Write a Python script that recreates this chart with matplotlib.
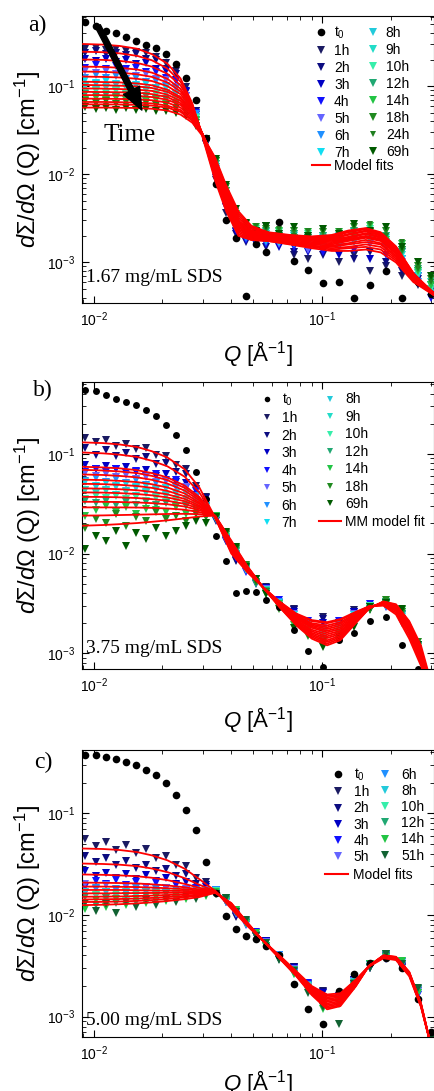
import matplotlib
matplotlib.use("Agg")
import matplotlib.pyplot as plt
from matplotlib.lines import Line2D
from matplotlib.ticker import LogLocator, NullFormatter

plt.rcParams['font.family'] = ['Liberation Sans', 'DejaVu Sans']
plt.rcParams['mathtext.fontset'] = 'custom'
plt.rcParams['mathtext.rm'] = 'Liberation Sans'
plt.rcParams['mathtext.it'] = 'Liberation Sans:italic'
plt.rcParams['mathtext.sf'] = 'Liberation Sans:italic'

# ---------------- data (intensities in 1e-3 cm^-1) ----------------
q = [0.0092, 0.0102, 0.0113, 0.0125, 0.0138, 0.0153, 0.0169, 0.0187, 0.0207, 0.0229,
     0.0253, 0.028, 0.031, 0.0343, 0.038, 0.042, 0.0465, 0.0515, 0.057, 0.065,
     0.075, 0.087, 0.101, 0.118, 0.138, 0.162, 0.19, 0.223, 0.262, 0.3]
qf_a = [0.009, 0.011, 0.013, 0.0155, 0.018, 0.021, 0.024, 0.027, 0.030, 0.034, 0.038, 0.043,
        0.049, 0.058, 0.072, 0.09, 0.11, 0.13, 0.155, 0.18, 0.21, 0.25, 0.31]
qf_bc = [0.009, 0.011, 0.013, 0.0155, 0.018, 0.021, 0.025, 0.029, 0.034, 0.04, 0.047, 0.055,
         0.065, 0.077, 0.09, 0.105, 0.12, 0.14, 0.16, 0.185, 0.21, 0.24, 0.27, 0.3]

# panel a: 1.67 mg/mL
a_t0 = [530, 480, 425, 395, 360, 325, 295, 270, 230, 180, 125, 70, 26, 7.8, 3.0, 1.9, 0.42, 1.6, 1.3, 2.9,
        1.05, 0.83, 0.58, 0.6, 0.40, 0.55, 0.8, 0.39, 0.6, 0.44]
a_1h = [265, 272, 258, 262, 250, 246, 236, 215, 182, 148, 98, 52, 22, 8.5, 3.6, 2.3, 1.9, 2.1, 2.6, 1.7,
        1.2, 1.1, 1.5, 1.0, 1.2, 0.8, 0.9, 0.7, 0.55, 0.5]
a_2h = [238, 250, 232, 240, 225, 228, 202, 196, 158, 138, 86, 52, 22, 9.5, 4.2, 2.1, 1.7, 2.3, 1.5, 1.9,
        1.3, 1.7, 1.2, 1.6, 1.1, 1.3, 1.0, 0.8, 0.65, 0.48]
a_3h = [205, 192, 203, 188, 196, 178, 181, 155, 147, 118, 88, 47, 24, 9.0, 4.5, 2.2, 2.1, 1.6, 2.0, 1.5,
        1.9, 1.3, 1.6, 1.2, 1.8, 1.1, 1.5, 0.9, 0.7, 0.5]
a_4h = [160, 172, 158, 168, 155, 160, 144, 143, 122, 113, 77, 50, 23, 10.5, 4.3, 2.7, 1.8, 2.1, 1.6, 1.9,
        1.5, 1.8, 1.3, 1.7, 1.4, 1.9, 1.2, 1.1, 0.7, 0.4]
a_5h = [150, 140, 149, 138, 145, 131, 136, 120, 117, 97, 78, 45, 25, 10.0, 5.0, 2.4, 2.2, 1.7, 2.1, 1.6,
        1.9, 1.4, 1.8, 1.5, 2.0, 1.6, 1.7, 1.0, 0.75, 0.5]
a_6h = [124, 132, 122, 130, 120, 125, 112, 115, 99, 96, 69, 48, 23, 11.5, 4.8, 2.9, 1.9, 2.2, 1.7, 2.0,
        1.6, 1.9, 1.5, 1.9, 1.7, 2.1, 1.5, 1.3, 0.6, 0.5]
a_7h = [116, 108, 114, 106, 112, 102, 106, 95, 95, 82, 70, 43, 25, 11.0, 5.4, 2.6, 2.3, 1.8, 2.1, 1.7,
        2.0, 1.6, 1.9, 1.6, 2.1, 1.8, 1.9, 1.1, 0.8, 0.55]
a_8h = [100, 106, 99, 104, 97, 101, 91, 94, 84, 82, 63, 45, 23, 12.2, 5.3, 3.0, 2.1, 2.3, 1.8, 2.1,
        1.7, 2.0, 1.6, 2.0, 1.8, 2.2, 1.6, 1.4, 0.7, 0.45]
a_9h = [97, 91, 96, 90, 94, 87, 90, 82, 83, 72, 64, 41, 25, 12.0, 6.0, 2.9, 2.4, 1.9, 2.2, 1.8,
        2.1, 1.7, 2.0, 1.7, 2.2, 1.9, 2.0, 1.2, 0.8, 0.6]
a_10h = [83, 89, 84, 88, 82, 86, 78, 81, 72, 72, 57, 43, 23, 13.2, 5.8, 3.2, 2.2, 2.4, 1.9, 2.2,
         1.8, 2.1, 1.7, 2.1, 1.9, 2.4, 1.7, 1.5, 0.75, 0.5]
a_12h = [81, 77, 80, 76, 79, 74, 77, 71, 71, 63, 57, 40, 25, 13.0, 6.5, 3.1, 2.5, 2.0, 2.3, 1.9,
         2.1, 1.8, 2.0, 1.8, 2.3, 2.1, 2.0, 1.3, 0.85, 0.55]
a_14h = [70, 74, 69, 73, 69, 72, 67, 70, 63, 64, 52, 41, 23, 14.2, 6.4, 3.5, 2.3, 2.5, 2.0, 2.3,
         1.9, 2.2, 1.8, 2.2, 2.0, 2.6, 1.8, 1.6, 0.8, 0.55]
a_18h = [68, 64, 67, 63, 66, 62, 65, 61, 61, 56, 51, 38, 25, 14.0, 7.1, 3.4, 2.7, 2.1, 2.4, 2.0,
         2.3, 1.9, 2.2, 1.9, 2.5, 2.2, 2.3, 1.4, 0.9, 0.65]
a_24h = [60, 63, 59, 62, 60, 62, 58, 60, 56, 56, 47, 39, 23, 15.2, 7.0, 3.8, 2.5, 2.6, 2.1, 2.4,
         2.0, 2.3, 1.9, 2.3, 2.2, 2.7, 2.0, 1.7, 0.85, 0.6]
a_69h = [58, 55, 57, 54, 56, 53, 55, 52, 52, 49, 46, 35, 25, 15.0, 7.6, 4.0, 2.8, 2.3, 2.6, 2.1,
         2.5, 2.0, 2.4, 2.1, 2.7, 2.3, 2.5, 1.5, 1.0, 0.7]

fa_1h = [300, 295, 285, 265, 230, 180, 122, 64, 26, 8.5, 3.8, 2.0, 1.8, 1.75, 1.6, 1.45, 1.35, 1.35, 1.4, 1.3, 1.0, 0.6, 0.42]
fa_2h = [245, 242, 235, 220, 196, 158, 112, 62, 27, 9.0, 4.0, 2.1, 1.8, 1.75, 1.62, 1.5, 1.4, 1.45, 1.5, 1.4, 1.05, 0.62, 0.42]
fa_3h = [200, 198, 193, 183, 166, 138, 102, 60, 27, 9.5, 4.2, 2.2, 1.85, 1.78, 1.65, 1.52, 1.45, 1.5, 1.6, 1.5, 1.1, 0.64, 0.42]
fa_4h = [166, 165, 161, 154, 142, 121, 93, 58, 28, 10, 4.5, 2.3, 1.9, 1.8, 1.68, 1.55, 1.5, 1.6, 1.7, 1.6, 1.15, 0.66, 0.43]
fa_5h = [146, 145, 142, 136, 127, 110, 87, 56, 28, 10.5, 4.7, 2.4, 1.95, 1.85, 1.72, 1.6, 1.55, 1.65, 1.8, 1.65, 1.2, 0.67, 0.43]
fa_6h = [128, 127, 125, 121, 114, 100, 81, 54, 28, 11, 5.0, 2.5, 2.0, 1.88, 1.75, 1.65, 1.6, 1.75, 1.9, 1.75, 1.25, 0.68, 0.43]
fa_7h = [112, 111, 110, 107, 102, 91, 75, 52, 28, 11.5, 5.2, 2.6, 2.05, 1.9, 1.8, 1.7, 1.65, 1.8, 1.95, 1.8, 1.3, 0.7, 0.43]
fa_8h = [103, 102, 101, 99, 95, 86, 72, 51, 28.5, 12, 5.5, 2.7, 2.1, 1.95, 1.85, 1.75, 1.7, 1.85, 2.0, 1.85, 1.32, 0.7, 0.44]
fa_9h = [94, 93.5, 92.5, 91, 88, 80, 68, 49, 28.5, 12.5, 5.8, 2.8, 2.15, 2.0, 1.88, 1.8, 1.75, 1.9, 2.1, 1.9, 1.35, 0.72, 0.44]
fa_10h = [86, 85.5, 85, 84, 81, 75, 64, 48, 28.5, 13, 6.0, 2.9, 2.2, 2.05, 1.9, 1.82, 1.8, 1.95, 2.15, 1.95, 1.38, 0.72, 0.44]
fa_12h = [79, 78.8, 78.3, 77.5, 75, 70, 61, 46, 28.5, 13.5, 6.3, 3.0, 2.25, 2.1, 1.95, 1.85, 1.85, 2.05, 2.25, 2.0, 1.42, 0.73, 0.44]
fa_14h = [72, 71.8, 71.4, 70.7, 69, 65, 57, 44, 28, 14, 6.6, 3.2, 2.3, 2.12, 1.97, 1.9, 1.9, 2.1, 2.3, 2.05, 1.45, 0.74, 0.44]
fa_18h = [66, 66, 65.6, 65, 63.5, 60, 53.5, 42, 28, 14.5, 6.9, 3.4, 2.4, 2.15, 2.0, 1.92, 1.95, 2.2, 2.38, 2.1, 1.48, 0.75, 0.44]
fa_24h = [62, 62, 61.7, 61.2, 60, 57, 51, 40.5, 27.5, 15, 7.2, 3.6, 2.5, 2.18, 2.02, 1.95, 2.0, 2.25, 2.42, 2.15, 1.5, 0.75, 0.43]
fa_69h = [57, 57, 56.8, 56.4, 55.3, 52.8, 47.5, 38.5, 27, 15.5, 7.5, 3.8, 2.6, 2.2, 2.05, 1.97, 2.05, 2.3, 2.45, 2.2, 1.52, 0.76, 0.43]

# panel b: 3.75 mg/mL
b_t0 = [440, 430, 385, 355, 330, 305, 275, 240, 195, 155, 108, 65, 35, 15, 8.5, 4.0, 4.2, 4.1, 3.4, 2.9,
        1.7, 1.05, 0.72, 1.35, 1.6, 2.1, 2.3, 1.2, 0.7, 0.5]
b_1h = [145, 132, 138, 121, 126, 112, 114, 98, 95, 78, 71, 48, 37, 22, 13.5, 8.4, 6.9, 5.0, 4.6, 3.1,
        2.8, 2.0, 2.3, 2.0, 2.7, 2.8, 3.1, 2.0, 1.2, 0.6]
b_2h = [115, 98, 108, 96, 101, 88, 93, 79, 80, 65, 62, 44, 36, 21, 13.8, 8.6, 7.0, 5.1, 4.5, 3.2,
        2.7, 2.0, 2.2, 2.0, 2.6, 2.8, 3.2, 2.1, 1.2, 0.6]
b_3h = [77, 71, 76, 70, 73, 66, 69, 60, 62, 52, 51, 39, 33, 22, 14, 8.9, 7.1, 5.1, 4.5, 3.2,
        2.6, 1.9, 2.0, 1.9, 2.6, 2.8, 3.2, 2.2, 1.2, 0.55]
b_4h = [66, 71, 65, 70, 64, 67, 60, 62, 54, 54, 45, 42, 30, 23.5, 13.2, 9.6, 6.6, 5.5, 4.1, 3.4,
        2.3, 2.1, 1.7, 2.1, 2.3, 3.1, 2.9, 2.4, 1.1, 0.5]
b_5h = [64, 60, 63, 59, 61, 56, 58, 52, 53, 46, 46, 37, 32, 22, 14.3, 9.2, 7.2, 5.1, 4.4, 3.1,
        2.5, 1.9, 1.8, 1.8, 2.5, 2.8, 3.2, 2.2, 1.2, 0.55]
b_6h = [53, 57, 52, 56, 51, 54, 49, 51, 45, 46, 40, 38, 29, 23.5, 13.7, 10.0, 6.8, 5.5, 4.0, 3.3,
        2.2, 2.0, 1.6, 1.9, 2.2, 3.0, 3.0, 2.5, 1.1, 0.5]
b_7h = [52, 48, 51, 47, 50, 46, 48, 44, 45, 40, 40, 34, 30, 22.2, 14.8, 9.6, 7.3, 5.1, 4.3, 3.0,
        2.4, 1.8, 1.7, 1.7, 2.4, 2.8, 3.3, 2.3, 1.2, 0.55]
b_8h = [43, 46, 43, 46, 42, 45, 41, 43, 39, 40, 35, 34, 28, 23.6, 14.2, 10.4, 6.9, 5.5, 4.0, 3.2,
        2.2, 1.9, 1.5, 1.8, 2.1, 3.0, 3.0, 2.5, 1.1, 0.5]
b_9h = [43, 40, 42, 39, 41, 38, 40, 37, 38, 35, 35, 31, 29, 22.5, 15.3, 10.0, 7.4, 5.1, 4.3, 2.9,
        2.3, 1.7, 1.55, 1.6, 2.3, 2.8, 3.3, 2.4, 1.2, 0.55]
b_10h = [35, 38, 36, 38, 35, 37, 34, 36, 33, 34, 31, 31, 27, 23.8, 14.7, 10.8, 7.0, 5.5, 4.0, 3.1,
         2.1, 1.8, 1.35, 1.7, 2.0, 2.95, 3.1, 2.6, 1.15, 0.5]
b_12h = [34, 32, 34, 31, 33, 31, 33, 31, 32, 30, 30, 28, 27.5, 22.6, 15.8, 10.5, 7.5, 5.1, 4.2, 2.9,
         2.2, 1.6, 1.4, 1.5, 2.1, 2.75, 3.3, 2.5, 1.2, 0.5]
b_14h = [24, 27, 30, 26, 29, 25, 28, 27, 26, 29, 25, 27, 24, 23.8, 15.2, 11.3, 7.1, 5.5, 3.9, 3.1,
         1.9, 1.7, 1.25, 1.55, 1.9, 2.9, 3.1, 2.7, 1.15, 0.5]
b_18h = [18, 22, 20, 25, 19, 23, 21, 26, 22, 24, 21, 25, 23, 22.8, 16.2, 11.0, 7.6, 5.2, 4.1, 2.8,
         2.1, 1.5, 1.3, 1.35, 2.1, 2.7, 3.4, 2.6, 1.3, 0.55]
b_69h = [11, 15, 13.5, 17, 12, 16, 14, 18, 15, 17, 19, 21, 20, 23, 16.5, 11.6, 7.4, 5.5, 3.9, 3.0,
         1.8, 1.6, 1.15, 1.45, 1.85, 2.9, 3.2, 2.8, 1.2, 0.5]

fb_1h = [130, 128, 124, 117, 106, 92, 70, 46, 23, 10, 6.5, 4.6, 3.3, 2.5, 2.15, 2.05, 2.2, 2.6, 2.95, 3.0, 2.45, 1.4, 0.75, 0.4]
fb_2h = [103, 101, 98, 93, 85, 75, 59, 41, 23, 10.3, 6.6, 4.6, 3.3, 2.45, 2.1, 2.0, 2.15, 2.55, 2.95, 3.05, 2.55, 1.5, 0.8, 0.4]
fb_3h = [74, 73, 71.5, 68.5, 64, 58, 48, 37, 23, 10.6, 6.7, 4.6, 3.25, 2.4, 2.0, 1.9, 2.05, 2.5, 2.95, 3.1, 2.65, 1.6, 0.85, 0.42]
fb_4h = [69, 68, 66.5, 64, 60, 54.5, 45.5, 35.5, 23, 10.9, 6.8, 4.6, 3.2, 2.35, 1.95, 1.82, 1.98, 2.45, 2.95, 3.1, 2.7, 1.65, 0.88, 0.43]
fb_5h = [62, 61.3, 60, 58, 54.8, 50.3, 42.8, 34, 23.2, 11.2, 6.85, 4.6, 3.15, 2.3, 1.9, 1.75, 1.9, 2.4, 2.9, 3.12, 2.75, 1.7, 0.9, 0.44]
fb_6h = [55, 54.5, 53.5, 52, 49.5, 46, 40, 32.5, 23.3, 11.5, 6.9, 4.6, 3.12, 2.25, 1.85, 1.68, 1.82, 2.35, 2.9, 3.15, 2.78, 1.75, 0.93, 0.45]
fb_7h = [50, 49.6, 48.8, 47.5, 45.5, 42.5, 37.5, 31.5, 23.4, 11.8, 7.0, 4.6, 3.1, 2.2, 1.8, 1.62, 1.75, 2.3, 2.88, 3.17, 2.8, 1.8, 0.95, 0.45]
fb_8h = [45, 44.7, 44.1, 43.1, 41.5, 39.2, 35.3, 30.3, 23.5, 12.0, 7.05, 4.6, 3.05, 2.15, 1.72, 1.55, 1.68, 2.25, 2.88, 3.2, 2.83, 1.83, 0.98, 0.46]
fb_9h = [41, 40.8, 40.3, 39.5, 38.3, 36.5, 33.5, 29.3, 23.6, 12.3, 7.1, 4.6, 3.02, 2.1, 1.66, 1.48, 1.62, 2.2, 2.85, 3.22, 2.86, 1.86, 1.0, 0.46]
fb_10h = [37, 36.9, 36.6, 36, 35.1, 33.8, 31.5, 28.2, 23.7, 12.5, 7.2, 4.6, 3.0, 2.05, 1.6, 1.42, 1.56, 2.15, 2.85, 3.24, 2.9, 1.9, 1.02, 0.47]
fb_12h = [33, 33, 32.8, 32.5, 32, 31.2, 29.6, 27.2, 23.8, 12.8, 7.3, 4.6, 2.97, 2.0, 1.55, 1.35, 1.5, 2.1, 2.83, 3.26, 2.95, 1.95, 1.05, 0.47]
fb_14h = [29, 29, 29, 28.9, 28.7, 28.3, 27.5, 26, 23.9, 13.0, 7.35, 4.6, 2.95, 1.97, 1.5, 1.3, 1.45, 2.05, 2.82, 3.28, 3.0, 2.0, 1.08, 0.48]
fb_18h = [24, 24.1, 24.3, 24.5, 24.7, 24.9, 25, 24.8, 24, 13.2, 7.4, 4.6, 2.92, 1.93, 1.45, 1.25, 1.4, 2.02, 2.8, 3.3, 3.05, 2.05, 1.12, 0.48]
fb_69h = [19, 19.3, 19.7, 20.2, 20.8, 21.5, 22.5, 23.5, 24, 13.5, 7.5, 4.6, 2.9, 1.9, 1.4, 1.2, 1.35, 2.0, 2.8, 3.3, 3.1, 2.1, 1.2, 0.5]

# panel c: 5.00 mg/mL
c_t0 = [370, 370, 356, 344, 318, 298, 265, 240, 200, 152, 108, 69, 33, 16.5, 9.8, 7.3, 6.2, 5.8, 5.0, 4.0,
        2.1, 1.2, 0.85, 1.8, 2.6, 3.4, 3.8, 3.0, 1.5, 0.7]
c_1h = [56, 48, 52, 44, 49, 41, 45, 36, 38, 31, 30, 23, 21, 16.5, 13.5, 9.6, 8.3, 6.2, 5.5, 3.8,
        3.1, 2.1, 1.8, 1.6, 2.3, 3.0, 3.9, 3.0, 1.8, 0.6]
c_2h = [38, 33, 36, 31, 34, 29, 31, 27, 28, 24, 25, 20, 19.5, 16.4, 13.8, 9.8, 8.4, 6.2, 5.5, 3.8,
        3.05, 2.05, 1.75, 1.55, 2.3, 3.05, 3.95, 3.1, 1.85, 0.6]
c_3h = [27, 24, 26, 23, 25.5, 22.5, 24.5, 21.5, 23, 20, 21, 18, 18.8, 16.6, 14, 9.9, 8.5, 6.2, 5.5, 3.7,
        3.0, 2.0, 1.7, 1.5, 2.3, 3.0, 4.0, 3.15, 1.85, 0.6]
c_4h = [19, 21.5, 20, 22, 19.5, 21, 19, 20.5, 18.5, 19.5, 17.5, 18.5, 17, 17.6, 13.3, 10.8, 8.0, 6.8, 5.0, 4.0,
        2.75, 2.15, 1.5, 1.6, 2.1, 3.3, 3.7, 3.45, 1.65, 0.55]
c_5h = [20, 18, 19.5, 17.5, 19, 17.5, 19, 17, 18.5, 17, 18, 16.5, 17.5, 16.6, 14.2, 10.2, 8.5, 6.3, 5.4, 3.7,
        2.95, 1.95, 1.55, 1.45, 2.25, 3.05, 4.0, 3.2, 1.8, 0.6]
c_6h = [16.5, 18.5, 17, 18, 16.5, 18.2, 16.8, 17.8, 16.6, 17.6, 16.4, 17.5, 16.5, 17.5, 13.5, 11.0, 8.1, 6.7, 5.0, 4.0,
        2.7, 2.05, 1.4, 1.55, 2.05, 3.25, 3.8, 3.45, 1.7, 0.55]
c_8h = [17, 15.5, 16.8, 15.2, 17, 15.5, 16.8, 15.6, 17, 15.8, 17.2, 15.9, 17.3, 16.4, 14.4, 10.4, 8.6, 6.3, 5.3, 3.7,
        2.9, 1.85, 1.45, 1.38, 2.2, 3.05, 4.05, 3.25, 1.85, 0.55]
c_10h = [13, 15.8, 14, 16, 13.8, 16.2, 14.5, 16.4, 14.8, 16.8, 15.2, 17, 15.8, 17.3, 13.7, 11.1, 8.2, 6.7, 5.0, 3.9,
         2.65, 2.0, 1.3, 1.45, 2.0, 3.3, 3.85, 3.5, 1.7, 0.55]
c_12h = [15, 12.5, 14.8, 13, 15.2, 13.5, 15.5, 13.8, 16, 14.5, 16.5, 15, 17, 16.2, 14.6, 10.6, 8.8, 6.3, 5.3, 3.65,
         2.85, 1.8, 1.35, 1.32, 2.15, 3.05, 4.1, 3.3, 1.85, 0.55]
c_14h = [11.5, 14, 12, 14.5, 12.5, 14.2, 13, 15, 13.6, 15.5, 14.3, 16.2, 15.5, 17, 13.9, 11.3, 8.3, 6.7, 4.9, 3.9,
         2.6, 1.9, 1.2, 1.4, 2.0, 3.3, 3.9, 3.55, 1.7, 0.55]
c_51h = [13, 11, 12.8, 10.5, 13.5, 12, 14, 12.5, 14.5, 13.5, 15.5, 14.5, 16, 16.2, 14.8, 10.8, 8.9, 6.2, 5.3, 3.6,
         2.8, 1.7, 1.25, 0.84, 2.1, 3.0, 4.15, 3.3, 1.9, 0.6]

fc_1h = [45, 44.5, 43.5, 41.5, 38.5, 34.5, 28.5, 22.5, 17.3, 11.5, 7.8, 5.6, 4.0, 2.8, 2.0, 1.65, 1.7, 2.3, 3.1, 3.75, 3.6, 2.5, 1.25, 0.5]
fc_2h = [32, 31.7, 31.2, 30.2, 28.6, 26.4, 23, 19.8, 17.2, 11.9, 7.9, 5.6, 3.95, 2.75, 1.95, 1.6, 1.65, 2.3, 3.15, 3.8, 3.65, 2.55, 1.27, 0.5]
fc_3h = [25, 24.8, 24.5, 24, 23.2, 22, 20.2, 18.5, 17.2, 12.2, 8.0, 5.6, 3.9, 2.7, 1.9, 1.55, 1.6, 2.25, 3.15, 3.85, 3.7, 2.6, 1.28, 0.5]
fc_4h = [20.8, 20.7, 20.6, 20.4, 20, 19.5, 18.7, 17.8, 17.1, 12.4, 8.1, 5.6, 3.88, 2.67, 1.85, 1.5, 1.55, 2.2, 3.15, 3.88, 3.73, 2.62, 1.29, 0.5]
fc_5h = [19, 19, 18.9, 18.8, 18.6, 18.3, 17.9, 17.4, 17.1, 12.5, 8.15, 5.6, 3.86, 2.65, 1.82, 1.45, 1.5, 2.15, 3.15, 3.9, 3.75, 2.64, 1.3, 0.5]
fc_6h = [17.6, 17.6, 17.6, 17.5, 17.4, 17.3, 17.2, 17.1, 17.0, 12.6, 8.2, 5.6, 3.84, 2.62, 1.78, 1.4, 1.47, 2.12, 3.15, 3.92, 3.78, 2.66, 1.31, 0.5]
fc_8h = [16.3, 16.3, 16.35, 16.4, 16.45, 16.5, 16.6, 16.7, 16.9, 12.7, 8.25, 5.6, 3.82, 2.6, 1.75, 1.35, 1.42, 2.08, 3.15, 3.95, 3.8, 2.68, 1.32, 0.5]
fc_10h = [15.1, 15.15, 15.2, 15.35, 15.5, 15.7, 16.0, 16.3, 16.8, 12.8, 8.3, 5.6, 3.8, 2.57, 1.72, 1.3, 1.38, 2.05, 3.15, 3.97, 3.82, 2.7, 1.33, 0.5]
fc_12h = [14.2, 14.25, 14.35, 14.5, 14.7, 15.0, 15.4, 15.9, 16.7, 12.9, 8.35, 5.6, 3.78, 2.55, 1.69, 1.26, 1.34, 2.02, 3.15, 3.98, 3.84, 2.72, 1.34, 0.5]
fc_14h = [13.4, 13.45, 13.55, 13.75, 14.0, 14.35, 14.9, 15.5, 16.6, 13.0, 8.4, 5.6, 3.76, 2.52, 1.66, 1.22, 1.3, 2.0, 3.15, 4.0, 3.86, 2.74, 1.35, 0.5]
fc_51h = [12.5, 12.6, 12.75, 13.0, 13.3, 13.7, 14.3, 15.0, 16.5, 13.1, 8.45, 5.6, 3.74, 2.5, 1.63, 1.18, 1.27, 1.98, 3.15, 4.0, 3.88, 2.76, 1.36, 0.5]

labels_a = ["1h", "2h", "3h", "4h", "5h", "6h", "7h", "8h", "9h", "10h", "12h", "14h", "18h", "24h", "69h"]
labels_b = ["1h", "2h", "3h", "4h", "5h", "6h", "7h", "8h", "9h", "10h", "12h", "14h", "18h", "69h"]
labels_c = ["1h", "2h", "3h", "4h", "5h", "6h", "8h", "10h", "12h", "14h", "51h"]

col = {"1h": "#1b1b62", "2h": "#0c0c80", "3h": "#0000c4", "4h": "#1010ff", "5h": "#6464ff",
       "6h": "#2090ff", "7h": "#10def2", "8h": "#22cadb", "9h": "#22dcc8", "10h": "#36eeaa",
       "12h": "#20a872", "14h": "#22c444", "18h": "#208a20", "24h": "#1f7f1f", "69h": "#005a00",
       "51h": "#116232"}

fig = plt.figure(figsize=(4.35, 10.91), dpi=100)


def panel(rect, t0, tri, fits, qf, labels, ylim, ms, letter, letter_xy, conc, conc_y, xpad=8):
    ax = fig.add_axes(rect)
    for lab, y in zip(labels, tri):
        s = ms * 0.8 if lab == "24h" else ms
        ax.plot(q, [v * 1e-3 for v in y], 'v', color=col[lab], ms=s, mew=0, label=lab, zorder=2)
    ax.plot(q, [v * 1e-3 for v in t0], 'o', color='black', ms=ms - 0.5, mew=0, label="t$_0$", zorder=3)
    for f in fits:
        ax.plot(qf, [v * 1e-3 for v in f], '-', color='red', lw=1.3, zorder=4)
    ax.set_xscale('log')
    ax.set_yscale('log')
    ax.set_xlim(0.0089, 0.308)
    ax.set_ylim(*ylim)
    ax.xaxis.set_minor_locator(LogLocator(base=10, subs=range(2, 10), numticks=20))
    ax.yaxis.set_minor_locator(LogLocator(base=10, subs=range(2, 10), numticks=20))
    ax.xaxis.set_minor_formatter(NullFormatter())
    ax.yaxis.set_minor_formatter(NullFormatter())
    ax.tick_params(which='both', direction='in', top=True, right=True, labelsize=10, pad=5)
    ax.tick_params(which='major', length=5)
    ax.tick_params(which='minor', length=3)
    ax.set_xlabel(r"$\mathit{Q}$ [Å$^{-1}$]", fontsize=16, labelpad=xpad)
    ax.set_ylabel(r"$\mathit{dΣ/dΩ}$ (Q) [cm$^{-1}$]", fontsize=17, labelpad=3)
    fig.text(letter_xy[0], letter_xy[1], letter, family='Liberation Serif', fontsize=17, ha='center', va='center')
    ax.text(0.012, conc_y, conc, transform=ax.transAxes, family='Liberation Serif', fontsize=14, va='center')
    return ax


rect_a = [0.1885, 0.7223, 0.8092, 0.2631]
rect_b = [0.1885, 0.3868, 0.8092, 0.2631]
rect_c = [0.1885, 0.0495, 0.8092, 0.2631]

ax_a = panel(rect_a, a_t0,
             [a_1h, a_2h, a_3h, a_4h, a_5h, a_6h, a_7h, a_8h, a_9h, a_10h, a_12h, a_14h, a_18h, a_24h, a_69h],
             [fa_1h, fa_2h, fa_3h, fa_4h, fa_5h, fa_6h, fa_7h, fa_8h, fa_9h, fa_10h, fa_12h, fa_14h, fa_18h, fa_24h, fa_69h],
             qf_a, labels_a, (3.47e-4, 0.624), 6, "a)", (0.085, 0.977), "1.67 mg/mL SDS", 0.087)
ax_b = panel(rect_b, b_t0,
             [b_1h, b_2h, b_3h, b_4h, b_5h, b_6h, b_7h, b_8h, b_9h, b_10h, b_12h, b_14h, b_18h, b_69h],
             [fb_1h, fb_2h, fb_3h, fb_4h, fb_5h, fb_6h, fb_7h, fb_8h, fb_9h, fb_10h, fb_12h, fb_14h, fb_18h, fb_69h],
             qf_bc, labels_b, (6.95e-4, 0.525), 5.5, "b)", (0.099, 0.6425), "3.75 mg/mL SDS", 0.07)
ax_c = panel(rect_c, c_t0,
             [c_1h, c_2h, c_3h, c_4h, c_5h, c_6h, c_8h, c_10h, c_12h, c_14h, c_51h],
             [fc_1h, fc_2h, fc_3h, fc_4h, fc_5h, fc_6h, fc_8h, fc_10h, fc_12h, fc_14h, fc_51h],
             qf_bc, labels_c, (6.31e-4, 0.419), 6, "c)", (0.099, 0.3016), "5.00 mg/mL SDS", 0.056, xpad=4)

# arrow + Time annotation in panel a
ax_a.annotate('', xy=(0.17, 0.672), xytext=(0.045, 0.965), xycoords='axes fraction', zorder=6,
              arrowprops=dict(facecolor='black', edgecolor='black', width=4, headwidth=13, headlength=16))
ax_a.text(0.136, 0.585, "Time", transform=ax_a.transAxes, family='Liberation Serif', fontsize=18,
          ha='center', va='center')


def legends(ax, order, fit_label, pos, fit_pos, hl, cs, ms, sp, one=False):
    h, l = ax.get_legend_handles_labels()
    d = dict(zip(l, h))
    hs = [d[k] for k in order]
    fit = Line2D([], [], color='red', lw=1.5)
    kw = dict(frameon=False, fontsize=10, handlelength=hl, handletextpad=0.3, labelspacing=sp,
              borderpad=0, borderaxespad=0, markerscale=ms, loc='upper left')
    if one:
        hs = hs + [fit]
        ax.legend(hs, order + [fit_label], ncol=2, columnspacing=cs, bbox_to_anchor=pos, **kw)
        return
    lg = ax.legend(hs, order, ncol=2, columnspacing=cs, bbox_to_anchor=pos, **kw)
    ax.add_artist(lg)
    ax.legend([fit], [fit_label], bbox_to_anchor=fit_pos, **kw)


legends(ax_a, ["t$_0$"] + labels_a, "Model fits", (0.653, 0.97), (0.653, 0.503), 1.3, 1.0, 1.0, 0.22)
legends(ax_b, ["t$_0$"] + labels_b, "MM model fit", (0.494, 0.967), None, 1.55, 1.6, 0.8, 0.25, one=True)
legends(ax_c, ["t$_0$"] + labels_c, "Model fits", (0.693, 0.942), (0.690, 0.59), 1.7, 0.3, 1.0, 0.16)

fig.savefig("out.png", dpi=100)
